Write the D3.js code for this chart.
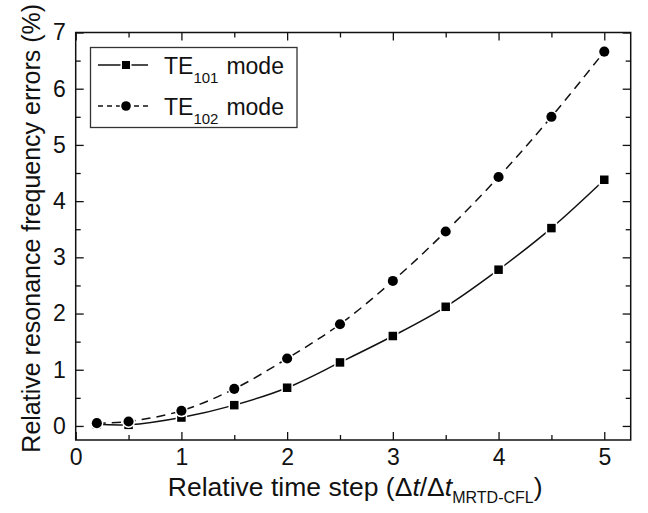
<!DOCTYPE html>
<html>
<head>
<meta charset="utf-8">
<script src="https://cdn.jsdelivr.net/npm/d3@7"></script>
<style>
  body { margin: 0; background: #fff; }
  text { font-family: "Liberation Sans", Arial, sans-serif; fill: #111; }
</style>
</head>
<body>
<div id="chart"></div>
<script>
// data
const timeSteps = [0.2, 0.5, 1, 1.5, 2, 2.5, 3, 3.5, 4, 4.5, 5];
const te101 = [0.03, 0.02, 0.15, 0.37, 0.68, 1.13, 1.60, 2.12, 2.78, 3.52, 4.38];
const te102 = [0.05, 0.08, 0.27, 0.66, 1.20, 1.81, 2.58, 3.46, 4.43, 5.50, 6.66];
const xMajor = [0, 1, 2, 3, 4, 5];
const xMinor = [0.5, 1.5, 2.5, 3.5, 4.5];
const yMajor = [0, 1, 2, 3, 4, 5, 6, 7];
const yMinor = [0.5, 1.5, 2.5, 3.5, 4.5, 5.5, 6.5];

const W = 648, H = 513;
const pad = {l: 75.7, r: 17.3, t: 32.5, b: 73};
const iw = W - pad.l - pad.r, ih = H - pad.t - pad.b;

const svg = d3.select('#chart').append('svg')
  .attr('width', W).attr('height', H);
svg.append('rect').attr('width', W).attr('height', H).attr('fill', '#fff');

const g = svg.append('g').attr('transform', `translate(${pad.l}, ${pad.t})`);

const x = d3.scaleLinear().domain([0, 5.25]).range([0, iw]);
const y = d3.scaleLinear().domain([-0.25, 7]).range([ih, 0]);

// axes: major + minor ticks pointing inward, on all four sides
const styleAxis = sel => {
  sel.select('.domain').remove();
  sel.selectAll('line').attr('stroke', '#111').attr('stroke-width', 1.3);
  sel.selectAll('text').style('font-size', '23px')
    .style('font-family', '"Liberation Sans", Arial, sans-serif').attr('fill', '#111');
};
g.append('g').attr('transform', `translate(0, ${ih})`)
  .call(d3.axisBottom(x).tickValues(xMajor).tickSize(-8).tickPadding(9).tickFormat(d3.format('d')))
  .call(styleAxis);
g.append('g').attr('transform', `translate(0, ${ih})`)
  .call(d3.axisBottom(x).tickValues(xMinor).tickSize(-5).tickFormat(''))
  .call(styleAxis);
g.append('g')
  .call(d3.axisTop(x).tickValues(xMajor).tickSize(-8).tickFormat(''))
  .call(styleAxis);
g.append('g')
  .call(d3.axisTop(x).tickValues(xMinor).tickSize(-5).tickFormat(''))
  .call(styleAxis);
g.append('g')
  .call(d3.axisLeft(y).tickValues(yMajor).tickSize(-8).tickPadding(10).tickFormat(d3.format('d')))
  .call(styleAxis);
g.append('g')
  .call(d3.axisLeft(y).tickValues(yMinor).tickSize(-5).tickFormat(''))
  .call(styleAxis);
g.append('g').attr('transform', `translate(${iw}, 0)`)
  .call(d3.axisRight(y).tickValues(yMajor).tickSize(-8).tickFormat(''))
  .call(styleAxis);
g.append('g').attr('transform', `translate(${iw}, 0)`)
  .call(d3.axisRight(y).tickValues(yMinor).tickSize(-5).tickFormat(''))
  .call(styleAxis);

g.append('rect')
  .attr('width', iw).attr('height', ih)
  .attr('fill', 'none').attr('stroke', '#111').attr('stroke-width', 1.5);

// series
const series = [
  {name: '101', values: te101, dash: null, shape: 'square'},
  {name: '102', values: te102, dash: '9,6', shape: 'circle'},
];

const line = d3.line()
  .x(d => x(d[0]))
  .y(d => y(d[1]))
  .curve(d3.curveCatmullRom);

const drawMarker = (sel, shape, size) => {
  if (shape === 'square') {
    sel.append('rect')
      .attr('x', -size / 2).attr('y', -size / 2)
      .attr('width', size).attr('height', size);
  } else {
    sel.append('circle').attr('r', size / 2 + 0.8);
  }
  // white halo gives the small gap between line and marker
  sel.selectAll('rect, circle')
    .attr('fill', '#000').attr('stroke', '#fff').attr('stroke-width', 3)
    .attr('paint-order', 'stroke');
};

series.forEach(s => {
  const pts = timeSteps.map((t, i) => [t, s.values[i]]);
  g.append('path')
    .datum(pts)
    .attr('d', line)
    .attr('fill', 'none')
    .attr('stroke', '#111')
    .attr('stroke-width', 1.5)
    .attr('stroke-dasharray', s.dash);
  g.selectAll(null)
    .data(pts)
    .enter().append('g')
    .attr('transform', d => `translate(${x(d[0])}, ${y(d[1])})`)
    .each(function() { drawMarker(d3.select(this), s.shape, 8.5); });
});

// legend
const legend = svg.append('g');
legend.append('rect')
  .attr('x', 90.5).attr('y', 47.5).attr('width', 206.5).attr('height', 80)
  .attr('fill', '#fff').attr('stroke', '#333').attr('stroke-width', 1.3);

series.forEach((s, i) => {
  const ly = 65 + i * 41;
  legend.append('line')
    .attr('x1', 98).attr('x2', 148).attr('y1', ly).attr('y2', ly)
    .attr('stroke', '#111').attr('stroke-width', 1.5)
    .attr('stroke-dasharray', s.dash ? '5,4' : null);
  const m = legend.append('g').attr('transform', `translate(126, ${ly})`);
  drawMarker(m, s.shape, 8);
  const t = legend.append('text')
    .attr('x', 164).attr('y', ly + 9)
    .style('font-size', '23px');
  t.append('tspan').text('TE');
  t.append('tspan').attr('dy', 9).style('font-size', '15px').text(s.name);
  t.append('tspan').attr('dy', -9).attr('dx', 8).text('mode');
});

// axis titles
const xt = svg.append('text')
  .attr('x', pad.l + iw / 2 + 2).attr('y', 496)
  .attr('text-anchor', 'middle')
  .style('font-size', '26.5px');
xt.append('tspan').text('Relative time step (\u0394');
xt.append('tspan').style('font-style', 'italic').text('t');
xt.append('tspan').text('/\u0394');
xt.append('tspan').style('font-style', 'italic').text('t');
xt.append('tspan').attr('dy', 7).style('font-size', '16px').text('MRTD-CFL');
xt.append('tspan').attr('dy', -7).text(')');

svg.append('text')
  .attr('transform', `translate(40, ${pad.t + ih / 2 - 8}) rotate(-90)`)
  .attr('text-anchor', 'middle')
  .style('font-size', '25px')
  .text('Relative resonance frequency errors (%)');
</script>
</body>
</html>
